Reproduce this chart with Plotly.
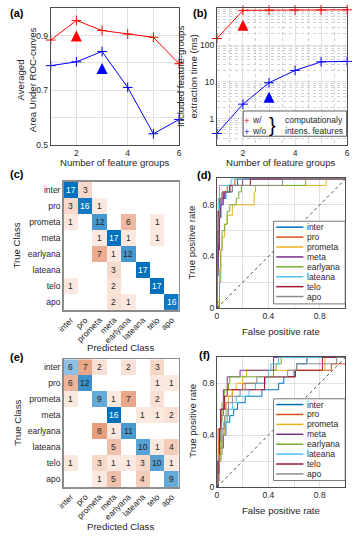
import plotly.graph_objects as go

W, H = 355, 545
def px(x): return x / W
def py(y): return 1 - y / H

# ---------------- data ----------------
n_groups = [1, 2, 3, 4, 5, 6]
auc_with = [0.884, 0.956, 0.919, 0.906, 0.894, 0.797]
auc_without = [0.790, 0.804, 0.842, 0.710, 0.540, 0.592]
time_with = [150, 870, 880, 885, 890, 900]
time_without = [0.40, 2.5, 9.5, 20.5, 35, 36]
best_x_with = [2]
best_x_without = [3]
best_auc_with = [0.919]
best_auc_without = [0.800]
best_time_with = [484]
best_time_without = [5.4]

classes = ['inter', 'pro', 'prometa', 'meta', 'earlyana', 'lateana', 'telo', 'apo']
cm_c = [
    [17, 3, 0, 0, 0, 0, 0, 0],
    [3, 16, 1, 0, 0, 0, 0, 0],
    [1, 0, 12, 0, 6, 0, 1, 0],
    [0, 0, 1, 17, 1, 0, 1, 0],
    [0, 0, 7, 1, 12, 0, 0, 0],
    [0, 0, 0, 3, 0, 17, 0, 0],
    [1, 0, 0, 2, 0, 0, 17, 0],
    [0, 0, 0, 2, 1, 0, 0, 16],
]
cm_e = [
    [6, 7, 2, 0, 2, 0, 3, 0],
    [6, 12, 0, 0, 0, 0, 1, 1],
    [1, 0, 9, 1, 7, 0, 2, 0],
    [0, 0, 0, 16, 0, 1, 1, 2],
    [0, 0, 8, 1, 11, 0, 0, 0],
    [0, 0, 0, 5, 0, 10, 1, 4],
    [1, 0, 3, 1, 1, 3, 10, 1],
    [0, 0, 1, 5, 0, 4, 0, 9],
]

# ROC (d): (FPR, TPR) corner points
d_inter = [(0, 0), (0, 0.3), (0.01, 0.55), (0.02, 0.7), (0.03, 0.8), (0.05, 0.85), (0.07, 0.9), (0.12, 0.95), (0.16, 1), (1, 1)]
d_pro = [(0, 0), (0, 0.35), (0.005, 0.6), (0.01, 0.75), (0.02, 0.85), (0.04, 0.9), (0.08, 0.95), (0.14, 1), (1, 1)]
d_prometa = [(0, 0), (0.01, 0.05), (0.02, 0.3), (0.03, 0.45), (0.04, 0.55), (0.06, 0.65), (0.08, 0.72), (0.12, 0.75), (0.12, 0.8), (0.29, 0.9), (0.3, 0.95), (0.85, 1), (1, 1)]
d_meta = [(0, 0), (0, 0.25), (0.01, 0.45), (0.02, 0.7), (0.03, 0.8), (0.04, 0.85), (0.06, 0.9), (0.1, 0.95), (0.2, 1), (1, 1)]
d_earlyana = [(0, 0), (0.01, 0), (0.02, 0.2), (0.03, 0.45), (0.04, 0.6), (0.06, 0.65), (0.08, 0.75), (0.1, 0.8), (0.15, 0.85), (0.17, 0.9), (0.19, 0.95), (0.69, 1), (1, 1)]
d_lateana = [(0, 0), (0, 0.5), (0.01, 0.85), (0.02, 0.9), (0.02, 0.95), (0.11, 1), (1, 1)]
d_telo = [(0, 0), (0, 0.4), (0.01, 0.6), (0.01, 0.75), (0.02, 0.8), (0.03, 0.85), (0.05, 0.9), (0.1, 0.95), (0.26, 1), (1, 1)]
d_apo = [(0, 0), (0, 0.5), (0.01, 0.7), (0.02, 0.8), (0.03, 0.85), (0.04, 0.9), (0.12, 0.95), (0.51, 1), (1, 1)]

# ROC (f)
f_inter = [(0, 0), (0.01, 0.05), (0.02, 0.2), (0.03, 0.3), (0.05, 0.4), (0.07, 0.5), (0.1, 0.55), (0.13, 0.6), (0.16, 0.65), (0.22, 0.7), (0.35, 0.75), (0.48, 0.8), (0.52, 0.85), (0.6, 0.9), (0.62, 0.95), (0.7, 1), (1, 1)]
f_pro = [(0, 0), (0.005, 0.2), (0.01, 0.45), (0.03, 0.55), (0.05, 0.6), (0.07, 0.65), (0.09, 0.7), (0.12, 0.75), (0.2, 0.8), (0.37, 0.85), (0.61, 0.9), (0.89, 0.95), (1, 1)]
f_prometa = [(0, 0), (0.01, 0.05), (0.02, 0.2), (0.03, 0.3), (0.04, 0.4), (0.06, 0.5), (0.07, 0.6), (0.09, 0.7), (0.12, 0.75), (0.15, 0.8), (0.2, 0.85), (0.23, 0.9), (0.84, 1), (1, 1)]
f_meta = [(0, 0), (0.01, 0.15), (0.02, 0.35), (0.03, 0.6), (0.05, 0.75), (0.08, 0.85), (0.18, 0.9), (0.44, 1), (1, 1)]
f_earlyana = [(0, 0), (0.01, 0.1), (0.02, 0.3), (0.03, 0.5), (0.04, 0.65), (0.06, 0.75), (0.09, 0.8), (0.1, 0.85), (0.44, 0.9), (0.46, 0.95), (0.5, 1), (1, 1)]
f_lateana = [(0, 0), (0.01, 0.2), (0.02, 0.4), (0.05, 0.5), (0.08, 0.6), (0.12, 0.65), (0.15, 0.7), (0.25, 0.75), (0.3, 0.8), (0.38, 0.85), (0.4, 0.9), (0.42, 0.95), (0.48, 1), (1, 1)]
f_telo = [(0, 0), (0.01, 0.2), (0.02, 0.45), (0.03, 0.6), (0.06, 0.7), (0.08, 0.75), (0.37, 0.85), (0.61, 0.9), (0.82, 1), (1, 1)]
f_apo = [(0, 0), (0.01, 0.1), (0.02, 0.25), (0.04, 0.45), (0.06, 0.55), (0.09, 0.65), (0.12, 0.7), (0.18, 0.75), (0.22, 0.8), (0.31, 0.85), (0.55, 0.9), (0.62, 0.95), (0.93, 1), (1, 1)]

roc_d = [d_inter, d_pro, d_prometa, d_meta, d_earlyana, d_lateana, d_telo, d_apo]
roc_f = [f_inter, f_pro, f_prometa, f_meta, f_earlyana, f_lateana, f_telo, f_apo]
chance = [0, 1]

class_colors = ['rgb(0,114,189)', 'rgb(217,83,25)', 'rgb(237,177,32)', 'rgb(126,47,142)',
                'rgb(119,172,48)', 'rgb(77,190,238)', 'rgb(162,20,47)', 'rgb(140,140,140)']

RED = 'rgb(255,0,0)'
BLUE = 'rgb(0,0,255)'
FONT = 'Liberation Sans, Arial, sans-serif'
TXT = '#262626'
TS = 8.5   # tick size
LS = 9.6   # axis title size
tick_font = dict(family=FONT, size=TS, color=TXT)
GRID = '#e1e1e1'
LINE = '#4d4d4d'

DIAG_SCALE = [[0, 'rgb(255,255,255)'], [0.35, 'rgb(150,196,228)'], [1, 'rgb(0,114,189)']]
OFF_SCALE = [[0, 'rgb(255,255,255)'], [0.06, 'rgb(251,232,223)'], [0.2, 'rgb(246,214,199)'],
             [0.45, 'rgb(234,165,135)'], [1, 'rgb(217,83,25)']]

fig = go.Figure()

# ---------- (a) ----------
fig.add_trace(go.Scatter(x=n_groups, y=auc_with, mode='lines+markers', xaxis='x', yaxis='y',
                         line=dict(color=RED, width=1), cliponaxis=False,
                         marker=dict(symbol='cross-thin', size=7, line=dict(color=RED, width=1))))
fig.add_trace(go.Scatter(x=n_groups, y=auc_without, mode='lines+markers', xaxis='x', yaxis='y',
                         line=dict(color=BLUE, width=1), cliponaxis=False,
                         marker=dict(symbol='cross-thin', size=7, line=dict(color=BLUE, width=1))))
fig.add_trace(go.Scatter(x=best_x_with, y=best_auc_with, mode='markers', xaxis='x', yaxis='y',
                         marker=dict(symbol='arrow-up', size=11, color=RED, line=dict(width=0))))
fig.add_trace(go.Scatter(x=best_x_without, y=best_auc_without, mode='markers', xaxis='x', yaxis='y',
                         marker=dict(symbol='arrow-up', size=11, color=BLUE, line=dict(width=0))))

# ---------- (b) ----------
fig.add_trace(go.Scatter(x=n_groups, y=time_with, mode='lines+markers', xaxis='x2', yaxis='y2',
                         line=dict(color=RED, width=1), cliponaxis=False,
                         marker=dict(symbol='cross-thin', size=7, line=dict(color=RED, width=1))))
fig.add_trace(go.Scatter(x=n_groups, y=time_without, mode='lines+markers', xaxis='x2', yaxis='y2',
                         line=dict(color=BLUE, width=1), cliponaxis=False,
                         marker=dict(symbol='cross-thin', size=7, line=dict(color=BLUE, width=1))))
fig.add_trace(go.Scatter(x=best_x_with, y=best_time_with, mode='markers', xaxis='x2', yaxis='y2',
                         marker=dict(symbol='arrow-up', size=11, color=RED, line=dict(width=0))))
fig.add_trace(go.Scatter(x=best_x_without, y=best_time_without, mode='markers', xaxis='x2', yaxis='y2',
                         marker=dict(symbol='arrow-up', size=11, color=BLUE, line=dict(width=0))))

annotations = []
shapes = []

# ---------- confusion matrices ----------
def add_cm(cm, xa, ya):
    vmax = max(max(r) for r in cm)
    n = len(cm)
    zd = [[cm[i][j] if (i == j and cm[i][j] > 0) else None for j in range(n)] for i in range(n)]
    zo = [[cm[i][j] if (i != j and cm[i][j] > 0) else None for j in range(n)] for i in range(n)]
    fig.add_trace(go.Heatmap(z=zd, x=classes, y=classes, xaxis=xa, yaxis=ya, zmin=0, zmax=vmax,
                             colorscale=DIAG_SCALE, showscale=False, hoverinfo='skip'))
    fig.add_trace(go.Heatmap(z=zo, x=classes, y=classes, xaxis=xa, yaxis=ya, zmin=0, zmax=vmax,
                             colorscale=OFF_SCALE, showscale=False, hoverinfo='skip'))
    for i in range(n):
        for j in range(n):
            v = cm[i][j]
            if v == 0:
                continue
            col = 'white' if (i == j and v >= 0.85 * vmax) else TXT
            annotations.append(dict(x=classes[j], y=classes[i], xref=xa, yref=ya, text=str(v),
                                    showarrow=False, font=dict(family=FONT, size=TS, color=col)))

add_cm(cm_c, 'x3', 'y3')
add_cm(cm_e, 'x5', 'y5')

# ---------- ROC ----------
def add_roc(curves, xa, ya):
    for pts, col in zip(curves, class_colors):
        fig.add_trace(go.Scatter(x=[p[0] for p in pts], y=[p[1] for p in pts], mode='lines',
                                 line=dict(color=col, width=1, shape='hv'), xaxis=xa, yaxis=ya,
                                 hoverinfo='skip'))
    fig.add_trace(go.Scatter(x=chance, y=chance, mode='lines', xaxis=xa, yaxis=ya,
                             line=dict(color='#222', width=0.8, dash='dot'), hoverinfo='skip'))

add_roc(roc_d, 'x4', 'y4')
add_roc(roc_f, 'x6', 'y6')

# ---------- axes ----------
def ax(domain, anchor, **kw):
    d = dict(domain=domain, anchor=anchor, showline=True, mirror=True, linecolor=LINE, linewidth=1,
             showgrid=True, gridcolor=GRID, gridwidth=1, zeroline=False, ticks='', tickfont=tick_font,
             fixedrange=True)
    d.update(kw)
    return d

xt_groups = dict(tickmode='array', tickvals=n_groups, ticktext=['', '2', '', '4', '', '6'])
layout_axes = dict(
    xaxis=ax([px(45), px(177)], 'y', range=[1, 6], **xt_groups),
    yaxis=ax([py(146), py(8.5)], 'x', range=[0.5, 1.0], tickmode='array',
             tickvals=[0.5, 0.6, 0.7, 0.8, 0.9, 1.0], ticktext=['0.5', '', '0.7', '', '0.9', '']),
    xaxis2=ax([px(216), px(350)], 'y2', range=[1, 6], **xt_groups,
              minor=dict(tickmode='array', tickvals=[1.5, 2.5, 3.5, 4.5, 5.5], showgrid=True,
                         griddash='dot', gridcolor='#d0d0d0', ticks='')),
    yaxis2=ax([py(146), py(8.2)], 'x2', type='log', range=[-0.7, 3.0], tickmode='array',
              tickvals=[1, 10, 100, 1000], ticktext=['1', '10', '100', ''],
              minor=dict(tickmode='array',
                         tickvals=[0.2, 0.3, 0.4, 0.5, 0.6, 0.7, 0.8, 0.9, 2, 3, 4, 5, 6, 7, 8, 9,
                                   20, 30, 40, 50, 60, 70, 80, 90, 200, 300, 400, 500, 600, 700, 800, 900],
                         showgrid=True, griddash='dot', gridcolor='#d0d0d0', ticks='')),
    xaxis3=ax([px(58.3), px(176.7)], 'y3', type='category', showgrid=False, tickangle=-45,
              linecolor='#8c8c8c', linewidth=1.5),
    yaxis3=ax([py(313.2), py(183.6)], 'x3', type='category', showgrid=False, autorange='reversed',
              linecolor='#8c8c8c', linewidth=1.5),
    xaxis5=ax([px(58.3), px(176.7)], 'y5', type='category', showgrid=False, tickangle=-45,
              linecolor='#8c8c8c', linewidth=1.5),
    yaxis5=ax([py(491.6), py(362.6)], 'x5', type='category', showgrid=False, autorange='reversed',
              linecolor='#8c8c8c', linewidth=1.5),
)
roc_ticks = dict(tickmode='array', tickvals=[0, 0.2, 0.4, 0.6, 0.8, 1.0], ticktext=['0', '', '0.4', '', '0.8', ''])
layout_axes['xaxis4'] = ax([px(216), px(348.3)], 'y4', range=[0, 1], **roc_ticks)
layout_axes['yaxis4'] = ax([py(311), py(180)], 'x4', range=[0, 1.005], **roc_ticks)
layout_axes['xaxis6'] = ax([px(216), px(348.3)], 'y6', range=[0, 1], **roc_ticks)
layout_axes['yaxis6'] = ax([py(491.5), py(360)], 'x6', range=[0, 1.005], **roc_ticks)

# ---------- texts ----------
def txt(x, y, s, size=LS, angle=0, bold=False, color=TXT, xanchor='center'):
    annotations.append(dict(x=px(x), y=py(y), xref='paper', yref='paper', text=('<b>%s</b>' % s) if bold else s,
                            showarrow=False, textangle=angle, xanchor=xanchor, yanchor='middle',
                            font=dict(family=FONT, size=size, color=color)))

for lbl, x, y in [('(a)', 10, 13), ('(b)', 199, 13), ('(c)', 10, 176), ('(d)', 203, 177),
                  ('(e)', 10, 360), ('(f)', 203, 358)]:
    txt(x, y, lbl, size=11, bold=True, color='black')

txt(19.5, 80, 'Averaged<br>Area Under ROC-curves', angle=-90)
txt(185, 77, 'Included feature-groups<br>extraction time (ms)', angle=-90)
txt(111, 163.5, 'Number of feature groups')
txt(282, 163.5, 'Number of feature groups')
txt(10, 248, 'True Class', angle=-90)
txt(117, 351, 'Predicted Class')
txt(10, 427, 'True Class', angle=-90)
txt(117, 531.5, 'Predicted Class')
txt(190, 245, 'True positive rate', angle=-90)
txt(282, 335, 'False positive rate')
txt(190, 425, 'True positive rate', angle=-90)
txt(282, 515, 'False positive rate')

# legend of (b)
shapes.append(dict(type='rect', xref='paper', yref='paper', x0=px(243), x1=px(349.5), y0=py(137.5), y1=py(112),
                   fillcolor='white', line=dict(color='#333', width=0.8)))
txt(246.5, 121.5, '+', size=9.5, color=RED)
txt(246.5, 132.5, '+', size=9.5, color=BLUE)
txt(250.5, 121.5, 'w/', size=TS, xanchor='left')
txt(250.5, 132.5, 'w/o', size=TS, xanchor='left')
txt(273, 126, '}', size=20, color='black')
txt(347.5, 121.5, 'computationaly', size=TS, xanchor='right')
txt(347.5, 132.5, 'intens. features', size=TS, xanchor='right')

# ROC legends
def roc_legend(top, bottom, first_y):
    shapes.append(dict(type='rect', xref='paper', yref='paper', x0=px(274.3), x1=px(348), y0=py(bottom), y1=py(top),
                       fillcolor='white', line=dict(color='#555', width=0.8)))
    for i, (name, col) in enumerate(zip(classes, class_colors)):
        yy = first_y + 10 * i
        shapes.append(dict(type='line', xref='paper', yref='paper', x0=px(277), x1=px(305), y0=py(yy), y1=py(yy),
                           line=dict(color=col, width=1.5)))
        txt(306.5, yy, name, size=TS, xanchor='left')

roc_legend(223.3, 306.7, 229.3)
roc_legend(402.5, 485, 408.3)

fig.update_layout(
    width=W, height=H, margin=dict(l=0, r=0, t=0, b=0), showlegend=False,
    paper_bgcolor='white', plot_bgcolor='white',
    annotations=annotations, shapes=shapes, **layout_axes
)

fig.write_html('out.html', config={'displayModeBar': False, 'staticPlot': True},
               post_script="document.body.style.margin='0';document.body.style.overflow='hidden';")
